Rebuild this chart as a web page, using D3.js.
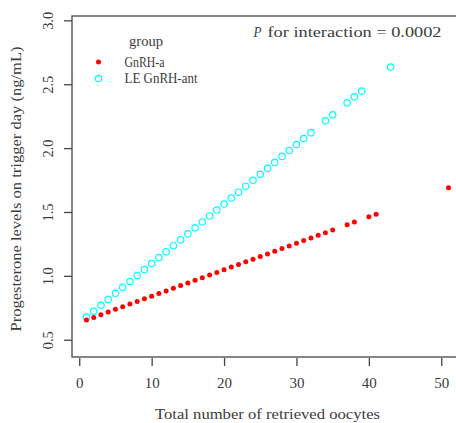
<!DOCTYPE html>
<html>
<head>
<meta charset="utf-8">
<script src="https://cdn.jsdelivr.net/npm/d3@7"></script>
<style>
  html, body { margin: 0; padding: 0; background: #fff; }
  svg { display: block; }
  text { font-family: "Liberation Serif", "DejaVu Serif", serif; fill: #3c3c3c; }
</style>
</head>
<body>
<div id="chart"></div>
<script>
// ==========================================
// DATA
// ==========================================
const gnrhA_x = [1,2,3,4,5,6,7,8,9,10,11,12,13,14,15,16,17,18,19,20,21,22,23,24,25,26,27,28,29,30,31,32,33,34,35,37,38,40,41,51];
const gnrhA_y = [0.655,0.675,0.696,0.717,0.738,0.758,0.779,0.800,0.820,0.841,0.862,0.882,0.903,0.924,0.945,0.965,0.986,1.007,1.027,1.048,1.069,1.089,1.110,1.131,1.152,1.172,1.193,1.214,1.234,1.255,1.276,1.296,1.317,1.338,1.359,1.400,1.421,1.462,1.483,1.690];

const leAnt_x = [1,2,3,4,5,6,7,8,9,10,11,12,13,14,15,16,17,18,19,20,21,22,23,24,25,26,27,28,29,30,31,32,34,35,37,38,39,43];
const leAnt_y = [0.677,0.723,0.770,0.816,0.863,0.910,0.956,1.003,1.049,1.096,1.143,1.189,1.236,1.282,1.329,1.376,1.422,1.469,1.515,1.562,1.609,1.655,1.702,1.748,1.795,1.842,1.888,1.935,1.981,2.028,2.075,2.121,2.214,2.261,2.354,2.401,2.447,2.634];

const groupNames = ["GnRH-a", "LE GnRH-ant"];
const xTicks = [0, 10, 20, 30, 40, 50];
const yTicks = [0.5, 1.0, 1.5, 2.0, 2.5, 3.0];

const W = 456, H = 423;
const plot = {left: 72, right: 463, top: 16, bottom: 357};
const FS = 14;

const svg = d3.select("#chart").append("svg")
    .attr("width", W)
    .attr("height", H);

// scales (R style: 4% padding around data range)
const x = d3.scaleLinear().domain([-1, 53]).range([plot.left, plot.right]);
const y = d3.scaleLinear().domain([0.365, 3.034]).range([plot.bottom, plot.top]);

// small helper: text stretched to a given width (monospace-ish look of the original)
function label(g, txt, width) {
    const t = g.append("text").text(txt).attr("font-size", FS);
    if (width) t.attr("textLength", width).attr("lengthAdjust", "spacingAndGlyphs");
    return t;
}

// --- FRAME ---
svg.append("rect")
    .attr("x", plot.left).attr("y", plot.top)
    .attr("width", plot.right - plot.left)
    .attr("height", plot.bottom - plot.top)
    .attr("fill", "none")
    .attr("stroke", "#444")
    .attr("stroke-width", 1.3);

// --- X AXIS ---
const xAxis = d3.axisBottom(x).tickValues(xTicks).tickSize(8).tickPadding(10).tickFormat(d3.format("d"));
svg.append("g")
    .attr("transform", `translate(0, ${plot.bottom + 1})`)
    .call(xAxis)
    .call(g => g.select(".domain").remove())
    .call(g => g.selectAll(".tick line").attr("stroke", "#444").attr("stroke-width", 1.3))
    .call(g => g.selectAll(".tick text")
        .attr("font-family", "Liberation Serif")
        .attr("font-size", FS)
        .attr("fill", "#3c3c3c")
        .attr("dy", "0.85em")
        .attr("textLength", d => d >= 10 ? 15 : 7.5)
        .attr("lengthAdjust", "spacingAndGlyphs"));

// --- Y AXIS (labels parallel to axis, like R) ---
const yAxis = d3.axisLeft(y).tickValues(yTicks).tickSize(8).tickFormat(d3.format(".1f"));
svg.append("g")
    .attr("transform", `translate(${plot.left}, 0)`)
    .call(yAxis)
    .call(g => g.select(".domain").remove())
    .call(g => g.selectAll(".tick line").attr("stroke", "#444").attr("stroke-width", 1.3))
    .call(g => g.selectAll(".tick text")
        .attr("font-family", "Liberation Serif")
        .attr("font-size", FS)
        .attr("fill", "#3c3c3c")
        .attr("x", 0).attr("dy", 0)
        .attr("text-anchor", "middle")
        .attr("transform", "translate(-24, 0) rotate(-90) translate(0, 5)")
        .attr("textLength", 18)
        .attr("lengthAdjust", "spacingAndGlyphs"));

// --- POINTS ---
const leData = leAnt_x.map((d, i) => ({x: d, y: leAnt_y[i]}));
const aData = gnrhA_x.map((d, i) => ({x: d, y: gnrhA_y[i]}));

svg.append("g").selectAll("circle")
    .data(leData).join("circle")
    .attr("cx", d => x(d.x))
    .attr("cy", d => y(d.y))
    .attr("r", 3.2)
    .attr("fill", "none")
    .attr("stroke", "#00ffff")
    .attr("stroke-width", 1.2);

svg.append("g").selectAll("circle")
    .data(aData).join("circle")
    .attr("cx", d => x(d.x))
    .attr("cy", d => y(d.y))
    .attr("r", 2.5)
    .attr("fill", "#ff0000");

// --- LEGEND ---
const leg = svg.append("g");
label(leg, "group", 34).attr("x", 129).attr("y", 46);
leg.append("circle").attr("cx", 98.5).attr("cy", 62).attr("r", 2.5).attr("fill", "#ff0000");
leg.append("circle").attr("cx", 98.5).attr("cy", 78.5).attr("r", 3.2)
    .attr("fill", "none").attr("stroke", "#00ffff").attr("stroke-width", 1.2);
label(leg, groupNames[0], 40).attr("x", 124.5).attr("y", 66.5);
label(leg, groupNames[1], 73).attr("x", 124.5).attr("y", 83);

// --- ANNOTATION ---
label(svg, "P", 8).attr("x", 253.5).attr("y", 37).attr("font-style", "italic");
label(svg, "for interaction = 0.0002", 174).attr("x", 267.5).attr("y", 37);

// --- AXIS TITLES ---
label(svg, "Total number of retrieved oocytes", 225)
    .attr("x", 155).attr("y", 419);

label(svg, "Progesterone levels on trigger day (ng/mL)", 285)
    .attr("text-anchor", "start")
    .attr("transform", "translate(21, 331.5) rotate(-90)");
</script>
</body>
</html>
